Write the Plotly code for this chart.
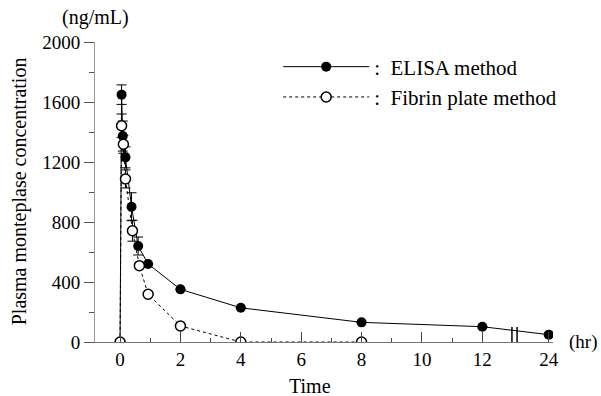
import plotly.graph_objects as go

# ---- data ----
elisa_time = [0, 0.05, 0.09, 0.18, 0.38, 0.6, 0.93, 2, 4, 8, 12, 24]
elisa_conc = [0, 1649, 1373, 1231, 902, 640, 520, 351, 228, 131, 102, 49]
elisa_err = [0, 65, 100, 70, 93, 60, 0, 0, 0, 0, 0, 0]

fibrin_time = [0, 0.05, 0.11, 0.18, 0.41, 0.64, 0.93, 2, 4, 8]
fibrin_conc = [0, 1442, 1318, 1087, 742, 509, 318, 107, 0, 0]
fibrin_err = [0, 78, 60, 60, 70, 0, 0, 0, 0, 0]

tick_vals = [0, 2, 4, 6, 8, 10, 12, 24]
y_ticks = [0, 400, 800, 1200, 1600, 2000]

BREAK_AT = 12.0
def pos(t):
    # broken time axis: after 12 h, 12 h compressed into ~2.2 units
    return t if t <= BREAK_AT else BREAK_AT + (t - BREAK_AT) * 2.2 / 12.0

FONT = "'Liberation Serif', 'DejaVu Serif', serif"

fig = go.Figure()
fig.add_trace(go.Scatter(
    x=[pos(t) for t in elisa_time], y=elisa_conc, name=":  ELISA method",
    mode="lines+markers",
    line=dict(color="black", width=1),
    marker=dict(symbol="circle", size=10, color="black"),
    error_y=dict(type="data", array=elisa_err, color="black", thickness=1, width=5),
))
fig.add_trace(go.Scatter(
    x=[pos(t) for t in fibrin_time], y=fibrin_conc, name=":  Fibrin plate method",
    mode="lines+markers",
    line=dict(color="black", width=1, dash="3px,3px"),
    marker=dict(symbol="circle", size=10, color="white", line=dict(color="black", width=1.5)),
    error_y=dict(type="data", array=fibrin_err, color="black", thickness=1, width=5),
))

# axis break marks
for xb in (12.98, 13.15):
    fig.add_shape(type="line", xref="x", yref="y", x0=xb, x1=xb, y0=-40, y1=100,
                  line=dict(color="black", width=1.5))

fig.update_layout(
    width=601, height=396,
    margin=dict(l=95, r=48, t=42, b=54),
    plot_bgcolor="white", paper_bgcolor="white",
    font=dict(family=FONT, size=19, color="black"),
    showlegend=True,
    legend=dict(x=0.4, y=0.985, xanchor="left", yanchor="top",
                bgcolor="rgba(0,0,0,0)", font=dict(family=FONT, size=21),
                itemwidth=86, tracegroupgap=0),
    xaxis=dict(
        range=[-0.83, 14.34], showgrid=False, zeroline=False,
        showline=True, linecolor="#777", linewidth=1,
        tickmode="array", tickvals=[pos(t) for t in tick_vals],
        ticktext=[str(t) for t in tick_vals],
        ticks="inside", ticklen=10, tickcolor="#444",
        minor=dict(tickvals=[1, 3, 5, 7, 9, 11], ticks="inside", ticklen=4, tickcolor="#444"),
        tickfont=dict(family=FONT, size=19),
    ),
    yaxis=dict(
        range=[0, 2000], showgrid=False, zeroline=False,
        showline=True, linecolor="#999", linewidth=1,
        tickvals=y_ticks, ticks="outside", ticklen=10, tickcolor="#555",
        minor=dict(dtick=200, ticks="outside", ticklen=5, tickcolor="#555"),
        tickfont=dict(family=FONT, size=19),
    ),
    annotations=[
        dict(text="Plasma monteplase concentration", xref="paper", yref="paper",
             x=-0.164, y=0.502, xanchor="center", yanchor="middle",
             textangle=-90, showarrow=False, font=dict(family=FONT, size=20)),
        dict(text="(ng/mL)", xref="paper", yref="paper", x=0.0, y=1.083,
             xanchor="center", yanchor="middle",
             showarrow=False, font=dict(family=FONT, size=20)),
        dict(text="Time", xref="paper", yref="paper", x=0.469, y=-0.147,
             xanchor="center", yanchor="middle",
             showarrow=False, font=dict(family=FONT, size=20)),
        dict(text="(hr)", xref="paper", yref="paper", x=1.031, y=0.0,
             xanchor="left", yanchor="middle", showarrow=False,
             font=dict(family=FONT, size=19)),
    ],
)

fig.write_html("out.html", config={"displayModeBar": False},
               post_script="document.body.style.margin='0';document.body.style.overflow='hidden';")
